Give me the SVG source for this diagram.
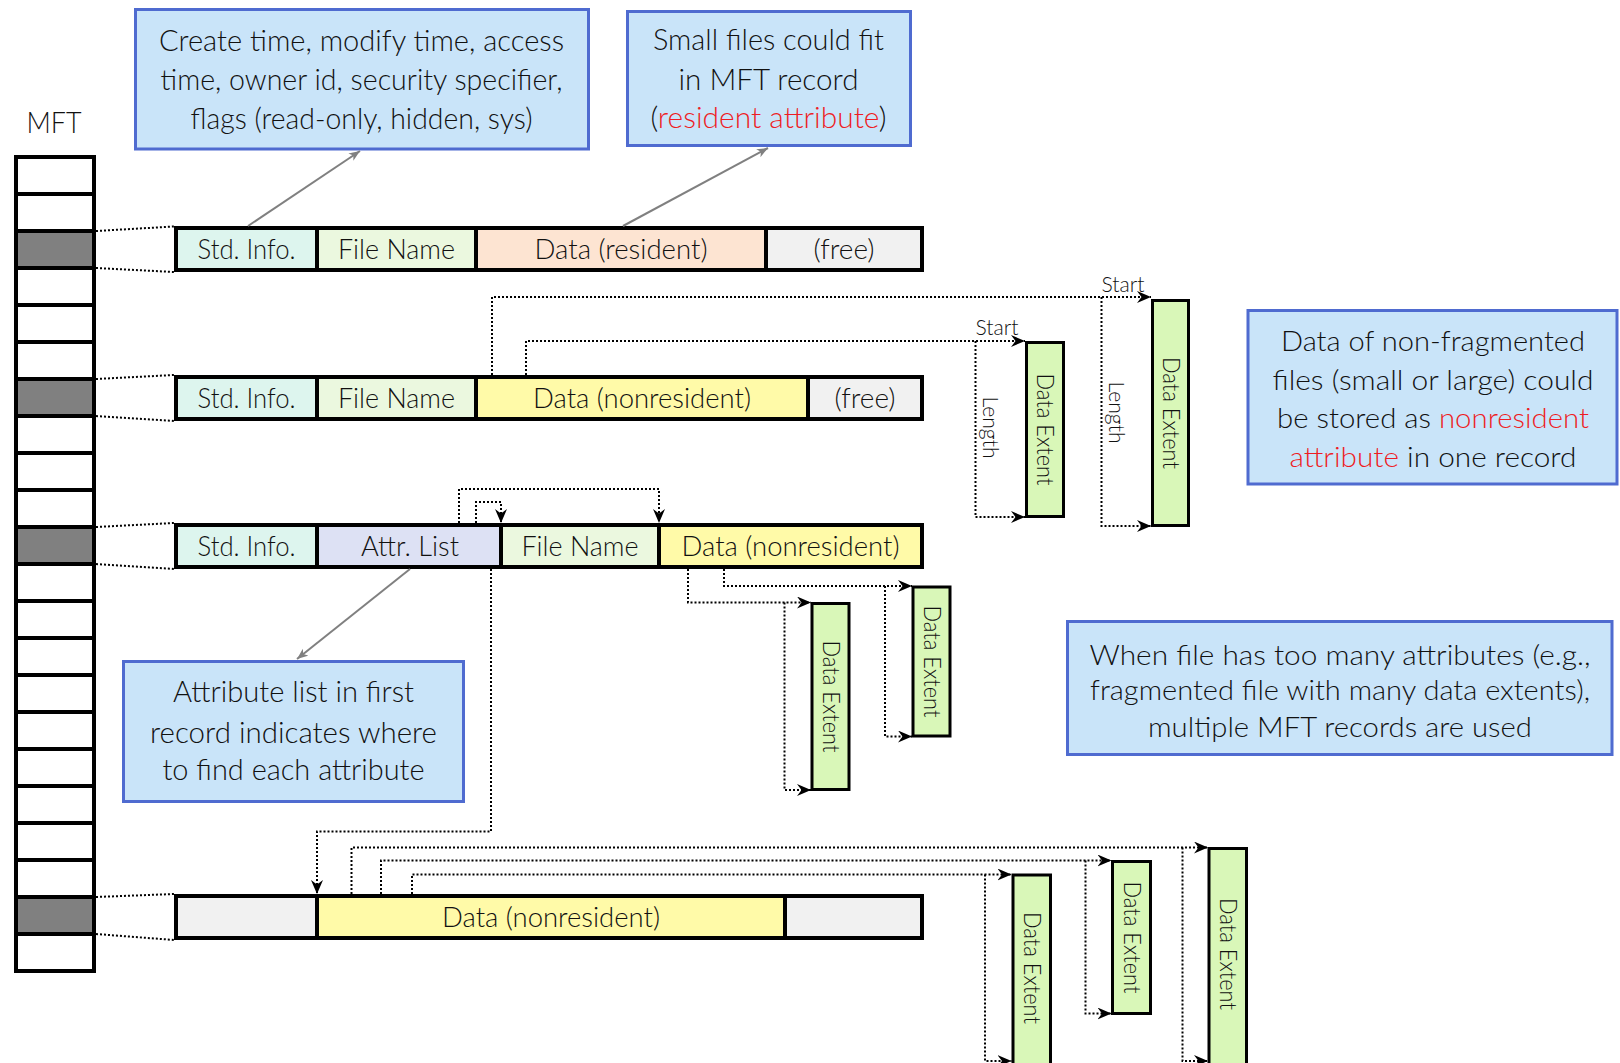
<svg xmlns="http://www.w3.org/2000/svg" width="1620" height="1063" viewBox="0 0 1620 1063">
<defs>
<style>
.t{font-family:Lato,"Open Sans","Liberation Sans",sans-serif;font-weight:300;fill:#111;text-anchor:middle}
.red{fill:#ee1c24}
.box{fill:#c9e4f9;stroke:#4f6bd0;stroke-width:3}
.seg{stroke:#000;stroke-width:4}
.mft{fill:#fff;stroke:#000;stroke-width:4}
.mftg{fill:#808080;stroke:#000;stroke-width:4}
.ext{fill:#d9f7b8;stroke:#000;stroke-width:3}
.dot{fill:none;stroke:#000;stroke-width:2;stroke-dasharray:2 2}
.gray{fill:none;stroke:#808080;stroke-width:2}
.si{fill:#ddf5ee}.fn{fill:#ebf8df}.dr{fill:#fde4d2}.fr{fill:#f1f1f1}.dn{fill:#fffaa8}.al{fill:#dde1f4}
</style>
<marker id="ab" markerUnits="userSpaceOnUse" markerWidth="15" markerHeight="13" refX="14" refY="6" orient="auto">
<path d="M0,0 L14,6 L0,12 L4.5,6 Z" fill="#000"/>
</marker>
<marker id="ag" markerUnits="userSpaceOnUse" markerWidth="12" markerHeight="10" refX="11" refY="4.5" orient="auto">
<path d="M0,0 L11,4.5 L0,9 L3,4.5 Z" fill="#808080"/>
</marker>
</defs>
<rect width="1620" height="1063" fill="#fff"/>

<!-- MFT -->
<g id="mft">
<text class="t" x="54" y="133" font-size="29" textLength="55" lengthAdjust="spacingAndGlyphs">MFT</text>
<rect class="mft" x="16" y="157" width="78" height="37"/>
<rect class="mft" x="16" y="194" width="78" height="37"/>
<rect class="mftg" x="16" y="231" width="78" height="37"/>
<rect class="mft" x="16" y="268" width="78" height="37"/>
<rect class="mft" x="16" y="305" width="78" height="37"/>
<rect class="mft" x="16" y="342" width="78" height="37"/>
<rect class="mftg" x="16" y="379" width="78" height="37"/>
<rect class="mft" x="16" y="416" width="78" height="37"/>
<rect class="mft" x="16" y="453" width="78" height="37"/>
<rect class="mft" x="16" y="490" width="78" height="37"/>
<rect class="mftg" x="16" y="527" width="78" height="37"/>
<rect class="mft" x="16" y="564" width="78" height="37"/>
<rect class="mft" x="16" y="601" width="78" height="37"/>
<rect class="mft" x="16" y="638" width="78" height="37"/>
<rect class="mft" x="16" y="675" width="78" height="37"/>
<rect class="mft" x="16" y="712" width="78" height="37"/>
<rect class="mft" x="16" y="749" width="78" height="37"/>
<rect class="mft" x="16" y="786" width="78" height="37"/>
<rect class="mft" x="16" y="823" width="78" height="37"/>
<rect class="mft" x="16" y="860" width="78" height="37"/>
<rect class="mftg" x="16" y="897" width="78" height="37"/>
<rect class="mft" x="16" y="934" width="78" height="37"/>
</g>

<!-- Callout boxes -->
<g id="note-attrs">
<rect class="box" x="135.5" y="9.5" width="453" height="139.5"/>
<text class="t" x="361.5" y="51" font-size="30" textLength="405" lengthAdjust="spacingAndGlyphs">Create time, modify time, access</text>
<text class="t" x="361.5" y="90" font-size="30" textLength="402" lengthAdjust="spacingAndGlyphs">time, owner id, security specifier,</text>
<text class="t" x="361.5" y="128.5" font-size="30" textLength="342" lengthAdjust="spacingAndGlyphs">flags (read-only, hidden, sys)</text>
</g>
<g id="note-resident">
<rect class="box" x="627.5" y="11.5" width="283" height="134"/>
<text class="t" x="768.5" y="50" font-size="30" textLength="231" lengthAdjust="spacingAndGlyphs">Small files could fit</text>
<text class="t" x="768.5" y="89.5" font-size="30" textLength="180" lengthAdjust="spacingAndGlyphs">in MFT record</text>
<text class="t" x="768.5" y="127.5" font-size="30" textLength="236" lengthAdjust="spacingAndGlyphs">(<tspan class="red">resident attribute</tspan>)</text>
</g>
<g id="note-attrlist">
<rect class="box" x="123.5" y="661.5" width="340" height="140"/>
<text class="t" x="293.5" y="702" font-size="29" textLength="241" lengthAdjust="spacingAndGlyphs">Attribute list in first</text>
<text class="t" x="293.5" y="743" font-size="29" textLength="287" lengthAdjust="spacingAndGlyphs">record indicates where</text>
<text class="t" x="293.5" y="780" font-size="29" textLength="262" lengthAdjust="spacingAndGlyphs">to find each attribute</text>
</g>
<g id="note-nonfrag">
<rect class="box" x="1248" y="310.5" width="369" height="173.5"/>
<text class="t" x="1433" y="351" font-size="28" textLength="304" lengthAdjust="spacingAndGlyphs">Data of non-fragmented</text>
<text class="t" x="1433" y="390" font-size="28" textLength="321" lengthAdjust="spacingAndGlyphs">files (small or large) could</text>
<text class="t" x="1433" y="428" font-size="28" textLength="312" lengthAdjust="spacingAndGlyphs">be stored as <tspan class="red">nonresident</tspan></text>
<text class="t" x="1433" y="466.5" font-size="28" textLength="287" lengthAdjust="spacingAndGlyphs"><tspan class="red">attribute</tspan> in one record</text>
</g>
<g id="note-multi">
<rect class="box" x="1067.5" y="621.5" width="544.5" height="133"/>
<text class="t" x="1340" y="664.5" font-size="28" textLength="501" lengthAdjust="spacingAndGlyphs">When file has too many attributes (e.g.,</text>
<text class="t" x="1340" y="699.5" font-size="28" textLength="500" lengthAdjust="spacingAndGlyphs">fragmented file with many data extents),</text>
<text class="t" x="1340" y="736.5" font-size="28" textLength="384" lengthAdjust="spacingAndGlyphs">multiple MFT records are used</text>
</g>

<!-- Records -->
<g id="rec1">
<rect class="seg si" x="176" y="228" width="141" height="42"/>
<rect class="seg fn" x="317" y="228" width="159" height="42"/>
<rect class="seg dr" x="476" y="228" width="290" height="42"/>
<rect class="seg fr" x="766" y="228" width="156" height="42"/>
<text class="t" x="246.5" y="258.5" font-size="27" textLength="98" lengthAdjust="spacingAndGlyphs">Std. Info.</text>
<text class="t" x="396.5" y="258.5" font-size="27" textLength="117" lengthAdjust="spacingAndGlyphs">File Name</text>
<text class="t" x="621" y="258.5" font-size="27" textLength="173" lengthAdjust="spacingAndGlyphs">Data (resident)</text>
<text class="t" x="844" y="258.5" font-size="27" textLength="61" lengthAdjust="spacingAndGlyphs">(free)</text>
</g>
<g id="rec2">
<rect class="seg si" x="176" y="377" width="141" height="42"/>
<rect class="seg fn" x="317" y="377" width="159" height="42"/>
<rect class="seg dn" x="476" y="377" width="332" height="42"/>
<rect class="seg fr" x="808" y="377" width="114" height="42"/>
<text class="t" x="246.5" y="407.5" font-size="27" textLength="98" lengthAdjust="spacingAndGlyphs">Std. Info.</text>
<text class="t" x="396.5" y="407.5" font-size="27" textLength="117" lengthAdjust="spacingAndGlyphs">File Name</text>
<text class="t" x="642" y="407.5" font-size="27" textLength="218" lengthAdjust="spacingAndGlyphs">Data (nonresident)</text>
<text class="t" x="865" y="407.5" font-size="27" textLength="61" lengthAdjust="spacingAndGlyphs">(free)</text>
</g>
<g id="rec3">
<rect class="seg si" x="176" y="525" width="141" height="42"/>
<rect class="seg al" x="317" y="525" width="184" height="42"/>
<rect class="seg fn" x="501" y="525" width="158" height="42"/>
<rect class="seg dn" x="659" y="525" width="263" height="42"/>
<text class="t" x="246.5" y="555.5" font-size="27" textLength="98" lengthAdjust="spacingAndGlyphs">Std. Info.</text>
<text class="t" x="410" y="555.5" font-size="27" textLength="98" lengthAdjust="spacingAndGlyphs">Attr. List</text>
<text class="t" x="580" y="555.5" font-size="27" textLength="117" lengthAdjust="spacingAndGlyphs">File Name</text>
<text class="t" x="790.5" y="555.5" font-size="27" textLength="218" lengthAdjust="spacingAndGlyphs">Data (nonresident)</text>
</g>
<g id="rec4">
<rect class="seg fr" x="176" y="896" width="141" height="42"/>
<rect class="seg dn" x="317" y="896" width="468" height="42"/>
<rect class="seg fr" x="785" y="896" width="137" height="42"/>
<text class="t" x="551" y="926.5" font-size="27" textLength="218" lengthAdjust="spacingAndGlyphs">Data (nonresident)</text>
</g>

<!-- Data extents -->
<g id="ext-r2a">
<rect class="ext" x="1026.5" y="342.5" width="37" height="174"/>
<text class="t" transform="translate(1045,429.5) rotate(90)" y="8" font-size="23" textLength="112" lengthAdjust="spacingAndGlyphs">Data Extent</text>
</g>
<g id="ext-r2b">
<rect class="ext" x="1152.5" y="300.5" width="36" height="225"/>
<text class="t" transform="translate(1170.5,413) rotate(90)" y="8" font-size="23" textLength="112" lengthAdjust="spacingAndGlyphs">Data Extent</text>
</g>
<g id="ext-r3a">
<rect class="ext" x="812" y="603.5" width="37" height="186"/>
<text class="t" transform="translate(830.5,696.5) rotate(90)" y="8" font-size="23" textLength="112" lengthAdjust="spacingAndGlyphs">Data Extent</text>
</g>
<g id="ext-r3b">
<rect class="ext" x="913" y="587" width="37" height="149"/>
<text class="t" transform="translate(931.5,661.5) rotate(90)" y="8" font-size="23" textLength="112" lengthAdjust="spacingAndGlyphs">Data Extent</text>
</g>
<g id="ext-r4a">
<rect class="ext" x="1013" y="875" width="37.5" height="195"/>
<text class="t" transform="translate(1031.5,968) rotate(90)" y="8" font-size="23" textLength="112" lengthAdjust="spacingAndGlyphs">Data Extent</text>
</g>
<g id="ext-r4b">
<rect class="ext" x="1112.5" y="861.5" width="38" height="152"/>
<text class="t" transform="translate(1131.5,937.5) rotate(90)" y="8" font-size="23" textLength="112" lengthAdjust="spacingAndGlyphs">Data Extent</text>
</g>
<g id="ext-r4c">
<rect class="ext" x="1209" y="848.5" width="37.5" height="220"/>
<text class="t" transform="translate(1228,954) rotate(90)" y="8" font-size="23" textLength="112" lengthAdjust="spacingAndGlyphs">Data Extent</text>
</g>

<!-- Connectors -->
<g id="connectors">
<!-- MFT to records -->
<path class="dot" d="M96,231 L174,226.5 M96,268 L174,272"/>
<path class="dot" d="M96,379 L174,375 M96,416 L174,421"/>
<path class="dot" d="M96,527 L174,523 M96,564 L174,569"/>
<path class="dot" d="M96,897 L174,894 M96,934 L174,940"/>
<!-- callout pointers -->
<line class="gray" x1="248" y1="226" x2="360" y2="151" marker-end="url(#ag)"/>
<line class="gray" x1="623" y1="226" x2="768" y2="148" marker-end="url(#ag)"/>
<line class="gray" x1="410" y1="569" x2="297" y2="659" marker-end="url(#ag)"/>
<!-- record 2 -->
<path class="dot" d="M492,375 V297 H1151" marker-end="url(#ab)"/>
<path class="dot" d="M526,375 V341 H1025" marker-end="url(#ab)"/>
<path class="dot" d="M975.5,341 V517 H1025" marker-end="url(#ab)"/>
<path class="dot" d="M1101.5,297 V526 H1151" marker-end="url(#ab)"/>
<text class="t" x="997" y="335" font-size="21" textLength="43" lengthAdjust="spacingAndGlyphs">Start</text>
<text class="t" x="1123" y="291.5" font-size="21" textLength="43" lengthAdjust="spacingAndGlyphs">Start</text>
<text class="t" transform="translate(990,427.5) rotate(90)" y="7" font-size="21" textLength="62" lengthAdjust="spacingAndGlyphs">Length</text>
<text class="t" transform="translate(1116,412.5) rotate(90)" y="7" font-size="21" textLength="62" lengthAdjust="spacingAndGlyphs">Length</text>
<!-- record 3 -->
<path class="dot" d="M459,523 V489 H659 V523" marker-end="url(#ab)"/>
<path class="dot" d="M476,523 V502 H501 V523" marker-end="url(#ab)"/>
<path class="dot" d="M688,569 V602.5 H811" marker-end="url(#ab)"/>
<path class="dot" d="M784.5,602.5 V790 H811" marker-end="url(#ab)"/>
<path class="dot" d="M724,569 V586 H912" marker-end="url(#ab)"/>
<path class="dot" d="M885,586 V736.5 H912" marker-end="url(#ab)"/>
<path class="dot" d="M491,569 V831.5 H317 V894" marker-end="url(#ab)"/>
<!-- record 4 -->
<path class="dot" d="M351.5,894 V847.5 H1208" marker-end="url(#ab)"/>
<path class="dot" d="M381,894 V860.5 H1111.5" marker-end="url(#ab)"/>
<path class="dot" d="M412,894 V874.5 H1011.5" marker-end="url(#ab)"/>
<path class="dot" d="M1182.5,847.5 V1061 H1208" marker-end="url(#ab)"/>
<path class="dot" d="M1085.5,860.5 V1013.5 H1111.5" marker-end="url(#ab)"/>
<path class="dot" d="M985,874.5 V1061 H1011.5" marker-end="url(#ab)"/>
</g>
</svg>
